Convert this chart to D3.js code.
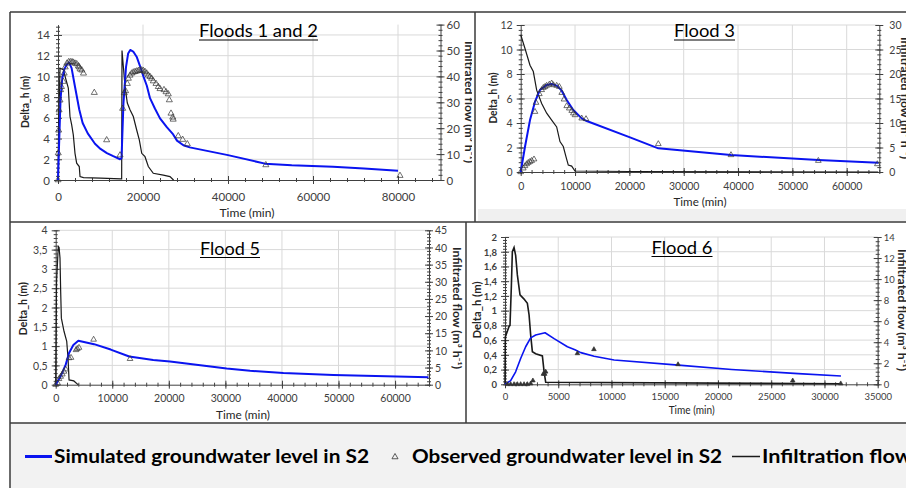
<!DOCTYPE html>
<html><head><meta charset="utf-8">
<script src="https://cdn.jsdelivr.net/npm/d3@7"></script>
<style>
html,body{margin:0;padding:0;background:#fff;}
svg{display:block;font-family:Lato,"Open Sans",sans-serif;}
</style></head><body>
<svg id="c" width="906" height="488"></svg>
<script>
// ---------------- DATA ----------------
// Floods 1 and 2: [time (min), value]
const f12Sim = [[0,0],[300,4],[600,7.8],[1000,9.8],[1500,10.7],[2000,11.1],[2600,11.35],[3200,10.8],[4000,9.0],[5000,6.8],[5800,5.5],[7000,4.5],[8700,3.5],[10000,3.0],[11500,2.6],[13000,2.3],[14600,2.0],[14950,2.1],[15400,7.4],[16000,10.9],[16500,12.2],[17000,12.55],[17700,12.4],[18500,11.9],[19300,11.0],[20100,10.0],[20900,9.1],[21650,7.9],[22800,6.9],[24000,5.95],[25600,5.1],[27100,4.4],[28000,3.8],[29500,3.35],[31000,3.15],[40000,2.4],[48700,1.58],[55000,1.42],[64700,1.28],[72000,1.1],[80000,0.9]];
const f12Obs = [[0,0],[60,2.6],[150,4.8],[250,6.75],[470,7.7],[600,8.7],[800,9.0],[1250,9.5],[1450,10.3],[1700,10.9],[2100,11.26],[2500,11.4],[2900,11.4],[3300,11.4],[3600,11.35],[4000,11.26],[4400,11.2],[4800,11.0],[5000,10.9],[5200,10.7],[5600,10.6],[6000,10.3],[8540,8.43],[11450,3.86],[14600,2.4],[15220,6.9],[15600,8.4],[15900,8.6],[16310,9.3],[16550,9.8],[16940,10.1],[17330,10.3],[17720,10.4],[18120,10.45],[18500,10.5],[18900,10.55],[19300,10.6],[19700,10.6],[20080,10.55],[20470,10.45],[20870,10.3],[21250,10.1],[21650,9.97],[22030,9.8],[22420,9.55],[23060,9.3],[23600,9.0],[24000,8.8],[24940,8.7],[25420,8.5],[25950,8.3],[26200,7.72],[26590,6.43],[27000,6.05],[27100,5.85],[28300,4.25],[29340,3.9],[30430,3.47],[48900,1.45],[80470,0.42]];
const f12Flow = [[0,0],[150,20],[470,43.2],[1250,42.6],[1880,38.7],[2430,35.5],[2820,24.5],[3220,21.3],[3600,17.4],[4000,10.3],[4390,6.5],[5000,5.2],[5180,1.3],[6000,0.9],[10000,0.7],[14800,0.4],[14980,0.4],[15060,50],[15770,36.1],[16310,29.7],[16940,27.1],[17720,24.5],[18500,19.4],[19130,15.5],[19700,10.3],[20470,9.0],[21250,5.2],[22420,2.6],[24780,1.9],[26350,1.3],[27000,0.3],[27200,0]];
const f12XTicks = [0,20000,40000,60000,80000];
const f12YTicks = [0,2,4,6,8,10,12,14];
const f12Y2Ticks = [0,10,20,30,40,50,60];

// Flood 3
const f3Sim = [[0,0],[790,2.06],[1710,4.24],[2630,5.74],[3550,6.7],[4780,7.1],[5700,7.18],[6620,7.05],[7550,6.64],[8470,5.88],[9680,5.06],[11230,4.38],[12150,4.16],[20120,2.83],[25330,1.93],[38700,1.38],[54780,0.98],[65820,0.76]];
const f3Obs = [[0,0],[480,0.3],[790,0.49],[1100,0.65],[1400,0.76],[1710,0.84],[2020,0.92],[2450,1.04],[2630,4.92],[2820,5.66],[3430,6.37],[3860,6.7],[4170,6.88],[4480,6.96],[4780,7.05],[5270,7.15],[5700,7.24],[6010,7.1],[6620,7.05],[7110,6.96],[7550,6.47],[7970,5.93],[8470,5.39],[8940,5.2],[9390,5.0],[9690,4.8],[10000,4.65],[11230,4.38],[12020,4.33],[25330,2.29],[38700,1.39],[54780,0.92],[65640,0.65]];
const f3Flow = [[0,28],[790,25.2],[1710,21.8],[2320,20.5],[2940,16.7],[3860,14.0],[4780,12.0],[5700,10.6],[6620,9.2],[7230,6.2],[7840,5.2],[8340,3.1],[8760,1.4],[9380,1.2],[9990,0.2],[20000,0.1],[65800,0]];
const f3XTicks = [0,10000,20000,30000,40000,50000,60000];
const f3YTicks = [0,2,4,6,8,10,12];
const f3Y2Ticks = [0,5,10,15,20,25,30];

// Flood 5
const f5Sim = [[0,0],[880,0.22],[1770,0.52],[2360,0.82],[3120,1.03],[4000,1.14],[6780,1.05],[9730,0.91],[13000,0.73],[17240,0.64],[20210,0.6],[30230,0.42],[34360,0.36],[40250,0.3],[49090,0.25],[65900,0.19]];
const f5Obs = [[0,0],[350,0.04],[580,0.15],[880,0.21],[1170,0.27],[1470,0.34],[1770,0.4],[2350,0.69],[2710,0.7],[3590,0.9],[3820,0.93],[4120,0.96],[6700,1.17],[13140,0.67]];
const f5Flow = [[0,0],[150,30],[460,40.3],[600,40],[760,36.9],[880,27.2],[1000,19.4],[1480,15.5],[1950,12.6],[2180,7.7],[2360,1.4],[3200,1.1],[3890,0.1],[4000,0]];
const f5XTicks = [0,10000,20000,30000,40000,50000,60000];
const f5YTicks = [0,0.5,1,1.5,2,2.5,3,3.5,4];
const f5Y2Ticks = [0,5,10,15,20,25,30,35,40,45];

// Flood 6
const f6Sim = [[0,0],[530,0.05],[1000,0.17],[1470,0.35],[1940,0.51],[2410,0.63],[2880,0.67],[3760,0.70],[4610,0.62],[5860,0.51],[6570,0.47],[7120,0.43],[8370,0.38],[10250,0.33],[16280,0.26],[21290,0.2],[27540,0.145],[31550,0.113]];
const f6Obs = [[220,0],[530,0],[850,0],[1160,0],[1470,0],[1790,0],[2100,0],[2410,0.01],[2620,0.05],[3600,0.14],[3730,0.14],[3820,0.17],[6800,0.42],[8350,0.475],[16250,0.27],[27020,0.05],[31530,0.01]];
const f6Flow = [[0,0],[30,4.5],[380,5.5],[470,5.6],[600,9.4],[690,12.6],[850,13.0],[1000,12.25],[1160,10.4],[1410,8.5],[1790,8.1],[2100,7.7],[2260,6.6],[2410,4.7],[2570,3.1],[2880,2.9],[3510,2.7],[3670,1.2],[3820,0.2],[31550,0.05]];
const f6XTicks = [0,5000,10000,15000,20000,25000,30000,35000];
const f6YTicks = [0,0.2,0.4,0.6,0.8,1,1.2,1.4,1.6,1.8,2];
const f6Y2Ticks = [0,2,4,6,8,10,12,14];

const titles = ["Floods 1 and 2","Flood 3","Flood 5","Flood 6"];
const legendLabels = ["Simulated groundwater level in S2","Observed groundwater level in S2","Infiltration flow"];
const yTitle = "Delta_h (m)", xTitle = "Time (min)", y2Title = "Infiltrated flow  (m³ h⁻¹)";

// ---------------- DRAW ----------------
const svg = d3.select("#c");
const defs = svg.append("defs");
const comma = v => String(v).replace(".", ",");
const BLUE = "#0a14f0", AX = "#404040", GRID = "#d9d9d9";

const panels = [
 {id:1, title:titles[0], sim:f12Sim, obs:f12Obs, flow:f12Flow, xt:f12XTicks, yt:f12YTicks, y2t:f12Y2Ticks,
  xMax:90000, yMax:15, y2Max:60, xMinor:4000, yMinor:0.4, y2Minor:2,
  frame:[10,12,472,222], l:58, r:440.5, t:24.6, b:180, fs:11.5, xlab:17, ttl:[258.5,37,119],
  yT:[25,102,52], xT:[247,213,55], y2T:[469,102,122], fmt:d=>d, tri:16, blueW:2},
 {id:2, title:titles[1], sim:f3Sim, obs:f3Obs, flow:f3Flow, xt:f3XTicks, yt:f3YTicks, y2t:f3Y2Ticks,
  xMax:66000, yMax:12, y2Max:30, xMinor:2000, yMinor:0.4, y2Minor:1,
  frame:[476,12,930,222], l:520.7, r:879.3, t:25, b:172, fs:10.5, xlab:14, ttl:[704.5,37,61],
  yT:[492.7,98,51], xT:[700,201.7,53], y2T:[905,98,122], fmt:d=>d, tri:14, blueW:2, strip:[478,209,452,12]},
 {id:3, title:titles[2], sim:f5Sim, obs:f5Obs, flow:f5Flow, xt:f5XTicks, yt:f5YTicks, y2t:f5Y2Ticks,
  xMax:66000, yMax:4, y2Max:45, xMinor:2000, yMinor:0.1, y2Minor:1,
  frame:[10,222,466,423], l:55.7, r:429, t:230.3, b:384.7, fs:10.5, xlab:14, ttl:[230,254.5,60],
  yT:[23.3,308.7,53], xT:[243,414.7,54], y2T:[457,308,122], fmt:comma, tri:14, blueW:2},
 {id:4, title:titles[3], sim:f6Sim, obs:f6Obs, flow:f6Flow, xt:f6XTicks, yt:f6YTicks, y2t:f6Y2Ticks,
  xMax:35000, yMax:2, y2Max:14, xMinor:1000, yMinor:0.04, y2Minor:0.4,
  frame:[466,222,930,423], l:505, r:877.7, t:237, b:384.3, fs:9.5, xlab:12, ttl:[682,253.5,61],
  yT:[476.7,310,57], xT:[691.7,409.7,46], y2T:[902,310,122], fmt:comma, tri:9, blueW:1.6, filledObs:true}
];

function range(step, max){ const a=[]; for(let i=0;i*step<=max+1e-9;i++) a.push(+(i*step).toFixed(6)); return a; }

// legend background
svg.append("rect").attr("x",10).attr("y",423).attr("width",900).attr("height",70).attr("fill","#f2f2f2");

panels.forEach(p=>{
  const [fx0,fy0,fx1,fy1]=p.frame;
  defs.append("clipPath").attr("id","clip"+p.id).append("rect")
    .attr("x",fx0).attr("y",fy0).attr("width",fx1-fx0).attr("height",fy1-fy0);
  const g = svg.append("g").attr("clip-path",`url(#clip${p.id})`);
  g.append("rect").attr("x",fx0).attr("y",fy0).attr("width",fx1-fx0).attr("height",fy1-fy0).attr("fill","#fff");
  if(p.strip) g.append("rect").attr("x",p.strip[0]).attr("y",p.strip[1]).attr("width",p.strip[2]).attr("height",p.strip[3]).attr("fill","#f0f0f0");

  const x = d3.scaleLinear().domain([0,p.xMax]).range([p.l,p.r]);
  const y = d3.scaleLinear().domain([0,p.yMax]).range([p.b,p.t]);
  const y2 = d3.scaleLinear().domain([0,p.y2Max]).range([p.b,p.t]);

  // grid
  g.append("g").selectAll("line").data(p.xt.filter(v=>v>0)).join("line")
    .attr("x1",d=>x(d)).attr("x2",d=>x(d)).attr("y1",p.t).attr("y2",p.b).attr("stroke",GRID).attr("stroke-width",1);
  g.append("g").selectAll("line").data(p.yt.filter(v=>v>0)).join("line")
    .attr("x1",p.l).attr("x2",p.r).attr("y1",d=>y(d)).attr("y2",d=>y(d)).attr("stroke",GRID).attr("stroke-width",1);

  function styleAxis(sel, dir, len){
    sel.select(".domain").attr("stroke",AX).attr("stroke-width",1);
    sel.selectAll(".tick line").attr("stroke",AX).attr("stroke-width",1);
    if(dir==="h") sel.selectAll(".tick line").attr("y1",-len).attr("y2",len);
    else sel.selectAll(".tick line").attr("x1",-len).attr("x2",len);
    sel.selectAll("text").attr("fill","#404040").attr("font-size",p.fs).attr("font-family","Lato, 'Open Sans', sans-serif");
  }
  // x axis
  const gxm = g.append("g").attr("transform",`translate(0,${p.b})`)
    .call(d3.axisBottom(x).tickValues(range(p.xMinor,p.xMax)).tickSize(2).tickFormat(""));
  gxm.select(".domain").remove(); styleAxis(gxm,"h",2);
  const gx = g.append("g").attr("transform",`translate(0,${p.b})`)
    .call(d3.axisBottom(x).tickValues(p.xt).tickSizeOuter(0).tickFormat(d3.format("d")));
  styleAxis(gx,"h",4);
  gx.selectAll("text").attr("y",p.xlab).attr("dy","0.35em");

  // left axis
  const gym = g.append("g").attr("transform",`translate(${p.l},0)`)
    .call(d3.axisLeft(y).tickValues(range(p.yMinor,p.yMax)).tickSize(2).tickFormat(""));
  gym.select(".domain").remove(); styleAxis(gym,"v",2);
  const gy = g.append("g").attr("transform",`translate(${p.l},0)`)
    .call(d3.axisLeft(y).tickValues(p.yt).tickSizeOuter(0).tickFormat(p.fmt));
  styleAxis(gy,"v",4);
  gy.selectAll("text").attr("x",-8).attr("dy","0.35em");
  if(p.id===4) gy.selectAll("text").attr("font-weight","bold");

  // right axis
  const gy2m = g.append("g").attr("transform",`translate(${p.r},0)`)
    .call(d3.axisRight(y2).tickValues(range(p.y2Minor,p.y2Max)).tickSize(2).tickFormat(""));
  gy2m.select(".domain").remove(); styleAxis(gy2m,"v",2);
  const gy2 = g.append("g").attr("transform",`translate(${p.r},0)`)
    .call(d3.axisRight(y2).tickValues(p.y2t).tickSizeOuter(0).tickFormat(d=>d));
  styleAxis(gy2,"v",4);
  gy2.selectAll("text").attr("x",p.id===2?10:6).attr("dy","0.35em");

  // flow line
  g.append("path").datum(p.flow)
    .attr("d",d3.line().x(d=>x(d[0])).y(d=>y2(d[1])))
    .attr("fill","none").attr("stroke","#1a1a1a").attr("stroke-width",p.id===4?1.6:1.2);
  // simulated
  g.append("path").datum(p.sim)
    .attr("d",d3.line().x(d=>x(d[0])).y(d=>y(d[1])))
    .attr("fill","none").attr("stroke",BLUE).attr("stroke-width",p.blueW).attr("stroke-linejoin","round");
  // observed
  const tri = d3.symbol(d3.symbolTriangle).size(p.tri);
  g.append("g").selectAll("path").data(p.obs).join("path")
    .attr("d",tri).attr("transform",d=>`translate(${x(d[0])},${y(d[1])})`)
    .attr("fill",p.filledObs?"#333":"none").attr("stroke","#333").attr("stroke-width",0.7);

  // title
  g.append("text").attr("x",p.ttl[0]).attr("y",p.ttl[1]).attr("text-anchor","middle")
    .attr("font-size",17).attr("fill","#000").attr("textLength",p.ttl[2]).attr("lengthAdjust","spacingAndGlyphs").text(p.title);
  g.append("line").attr("x1",p.ttl[0]-p.ttl[2]/2).attr("x2",p.ttl[0]+p.ttl[2]/2)
    .attr("y1",p.ttl[1]+3).attr("y2",p.ttl[1]+3).attr("stroke","#000").attr("stroke-width",1.1);

  // axis titles
  g.append("text").attr("transform",`translate(${p.yT[0]},${p.yT[1]}) rotate(-90)`)
    .attr("text-anchor","middle").attr("dy","0.35em").attr("font-size",11.5).attr("font-weight","bold").attr("fill","#262626")
    .attr("textLength",p.yT[2]).attr("lengthAdjust","spacingAndGlyphs").text(yTitle);
  g.append("text").attr("x",p.xT[0]).attr("y",p.xT[1]).attr("dy","0.35em")
    .attr("text-anchor","middle").attr("font-size",12).attr("fill","#262626")
    .attr("textLength",p.xT[2]).attr("lengthAdjust","spacingAndGlyphs").text(xTitle);
  g.append("text").attr("transform",`translate(${p.y2T[0]},${p.y2T[1]}) rotate(90)`)
    .attr("text-anchor","middle").attr("dy","0.35em").attr("font-size",11.5).attr("font-weight","bold").attr("fill","#262626")
    .attr("textLength",p.y2T[2]).attr("lengthAdjust","spacingAndGlyphs").text(y2Title);
});

// frame lines
const frameLines = [
  [10,12,930,12],[10,12,10,488],[475,12,475,222],[10,222,930,222],[466,222,466,423],[10,423,930,423]
];
svg.append("g").selectAll("line").data(frameLines).join("line")
  .attr("x1",d=>d[0]).attr("y1",d=>d[1]).attr("x2",d=>d[2]).attr("y2",d=>d[3])
  .attr("stroke","#3a3a3a").attr("stroke-width",1.5);

// legend
const lg = svg.append("g").attr("font-weight","bold").attr("font-size",19).attr("fill","#000");
lg.append("line").attr("x1",25).attr("x2",52).attr("y1",456.5).attr("y2",456.5).attr("stroke",BLUE).attr("stroke-width",3);
lg.append("text").attr("x",54).attr("y",463).attr("textLength",315).attr("lengthAdjust","spacingAndGlyphs").text(legendLabels[0]);
lg.append("path").attr("d",d3.symbol(d3.symbolTriangle).size(16)).attr("transform","translate(395,457)")
  .attr("fill","none").attr("stroke","#333").attr("stroke-width",0.8);
lg.append("text").attr("x",412).attr("y",463).attr("textLength",310).attr("lengthAdjust","spacingAndGlyphs").text(legendLabels[1]);
lg.append("line").attr("x1",732).attr("x2",760).attr("y1",456.5).attr("y2",456.5).attr("stroke","#1a1a1a").attr("stroke-width",1.5);
lg.append("text").attr("x",762).attr("y",463).attr("textLength",150).attr("lengthAdjust","spacingAndGlyphs").text(legendLabels[2]);
</script>
</body></html>
